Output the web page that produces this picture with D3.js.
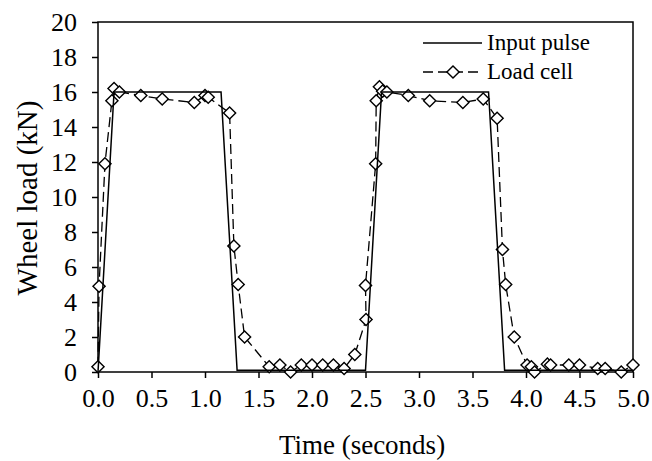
<!DOCTYPE html>
<html><head><meta charset="utf-8">
<script src="https://cdn.jsdelivr.net/npm/d3@7"></script>
<style>body{margin:0;background:#fff}svg{display:block}
svg text{font-family:"Liberation Serif","Times New Roman",Tinos,"DejaVu Serif",serif !important;}</style>
</head><body><svg id="c" width="652" height="461"></svg>
<script>
const inputT = [0, 0.15, 1.15, 1.3, 2.5, 2.65, 3.65, 3.8, 5.0];
const inputV = [0, 16, 16, 0.1, 0.1, 16, 16, 0.1, 0.1];
const loadT = [0.0, 0.01, 0.065, 0.13, 0.15, 0.2, 0.4, 0.6, 0.9, 1.0, 1.03, 1.23, 1.27, 1.31, 1.37,
  1.6, 1.7, 1.8, 1.9, 2.0, 2.1, 2.2, 2.3, 2.4, 2.505, 2.5, 2.595, 2.6, 2.63, 2.66, 2.7, 2.9, 3.1,
  3.41, 3.6, 3.73, 3.78, 3.81, 3.89, 4.01, 4.05, 4.08, 4.2, 4.23, 4.4, 4.5, 4.67, 4.74, 4.89, 5.0];
const loadV = [0.3, 4.9, 11.9, 15.5, 16.2, 16.0, 15.8, 15.6, 15.4, 15.8, 15.7, 14.8, 7.2, 5.0, 2.0,
  0.3, 0.4, 0.0, 0.4, 0.4, 0.4, 0.4, 0.2, 1.0, 3.0, 4.95, 11.9, 15.5, 16.3, 16.05, 16.0, 15.8, 15.5,
  15.4, 15.6, 14.5, 7.0, 5.0, 2.0, 0.4, 0.3, 0.0, 0.45, 0.4, 0.4, 0.4, 0.2, 0.2, 0.0, 0.4];
const xTicks = [0, 0.5, 1, 1.5, 2, 2.5, 3, 3.5, 4, 4.5, 5];
const yTicks = [0, 2, 4, 6, 8, 10, 12, 14, 16, 18, 20];
const seriesNames = ["Input pulse", "Load cell"];

const svg = d3.select("#c");
const L = 98, R = 633, T = 22, B = 372;
const x = d3.scaleLinear().domain([0, 5]).range([L, R]);
const y = d3.scaleLinear().domain([0, 20]).range([B, T]);

const yAx = svg.append("g").attr("transform", `translate(${L},0)`)
  .call(d3.axisLeft(y).tickValues(yTicks).tickFormat(d3.format("d")).tickSize(6).tickPadding(15));
const xAx = svg.append("g").attr("transform", `translate(0,${B})`)
  .call(d3.axisBottom(x).tickValues(xTicks).tickFormat(d3.format(".1f")).tickSize(6).tickPadding(11));
[yAx, xAx].forEach(a => {
  a.select(".domain").remove();
  a.selectAll("line").attr("stroke", "#000").attr("stroke-width", 1.5);
  a.selectAll("text").attr("font-size", 26).attr("fill", "#000");
});

// frame
svg.append("rect").attr("x", L).attr("y", T).attr("width", R - L).attr("height", B - T)
  .attr("fill", "none").attr("stroke", "#000").attr("stroke-width", 1.5);

const loadData = loadT.map((t, i) => [t, loadV[i]]);
const inputData = inputT.map((t, i) => [t, inputV[i]]);
const line = d3.line().x(d => x(d[0])).y(d => y(d[1]));

svg.append("path").datum(loadData).attr("d", line).attr("fill", "none")
  .attr("stroke", "#000").attr("stroke-width", 1.3).attr("stroke-dasharray", "10,5");
const diamond = d3.symbol().type(d3.symbolSquare).size(74);
svg.append("g").selectAll("path").data(loadData).join("path")
  .attr("transform", d => `translate(${x(d[0])},${y(d[1])}) rotate(45)`)
  .attr("d", diamond).attr("fill", "#fff").attr("stroke", "#000").attr("stroke-width", 1.4);

svg.append("path").datum(inputData).attr("d", line).attr("fill", "none")
  .attr("stroke", "#000").attr("stroke-width", 1.5);

// legend
const lg = svg.append("g");
lg.append("line").attr("x1", 423).attr("x2", 482).attr("y1", 43).attr("y2", 43)
  .attr("stroke", "#000").attr("stroke-width", 1.5);
lg.append("line").attr("x1", 423).attr("x2", 482).attr("y1", 72).attr("y2", 72)
  .attr("stroke", "#000").attr("stroke-width", 1.3).attr("stroke-dasharray", "10,5");
lg.append("path").attr("transform", "translate(453,72) rotate(45)").attr("d", diamond)
  .attr("fill", "#fff").attr("stroke", "#000").attr("stroke-width", 1.4);
lg.selectAll("text").data(seriesNames).join("text")
  .attr("x", 487).attr("y", (d, i) => 50 + i * 29)
  .attr("font-size", 23).text(d => d);

svg.append("text").attr("transform", "translate(37,198) rotate(-90)")
  .attr("text-anchor", "middle").attr("font-size", 29).text("Wheel load (kN)");
svg.append("text").attr("x", 362).attr("y", 454)
  .attr("text-anchor", "middle").attr("font-size", 27).text("Time (seconds)");
</script></body></html>
